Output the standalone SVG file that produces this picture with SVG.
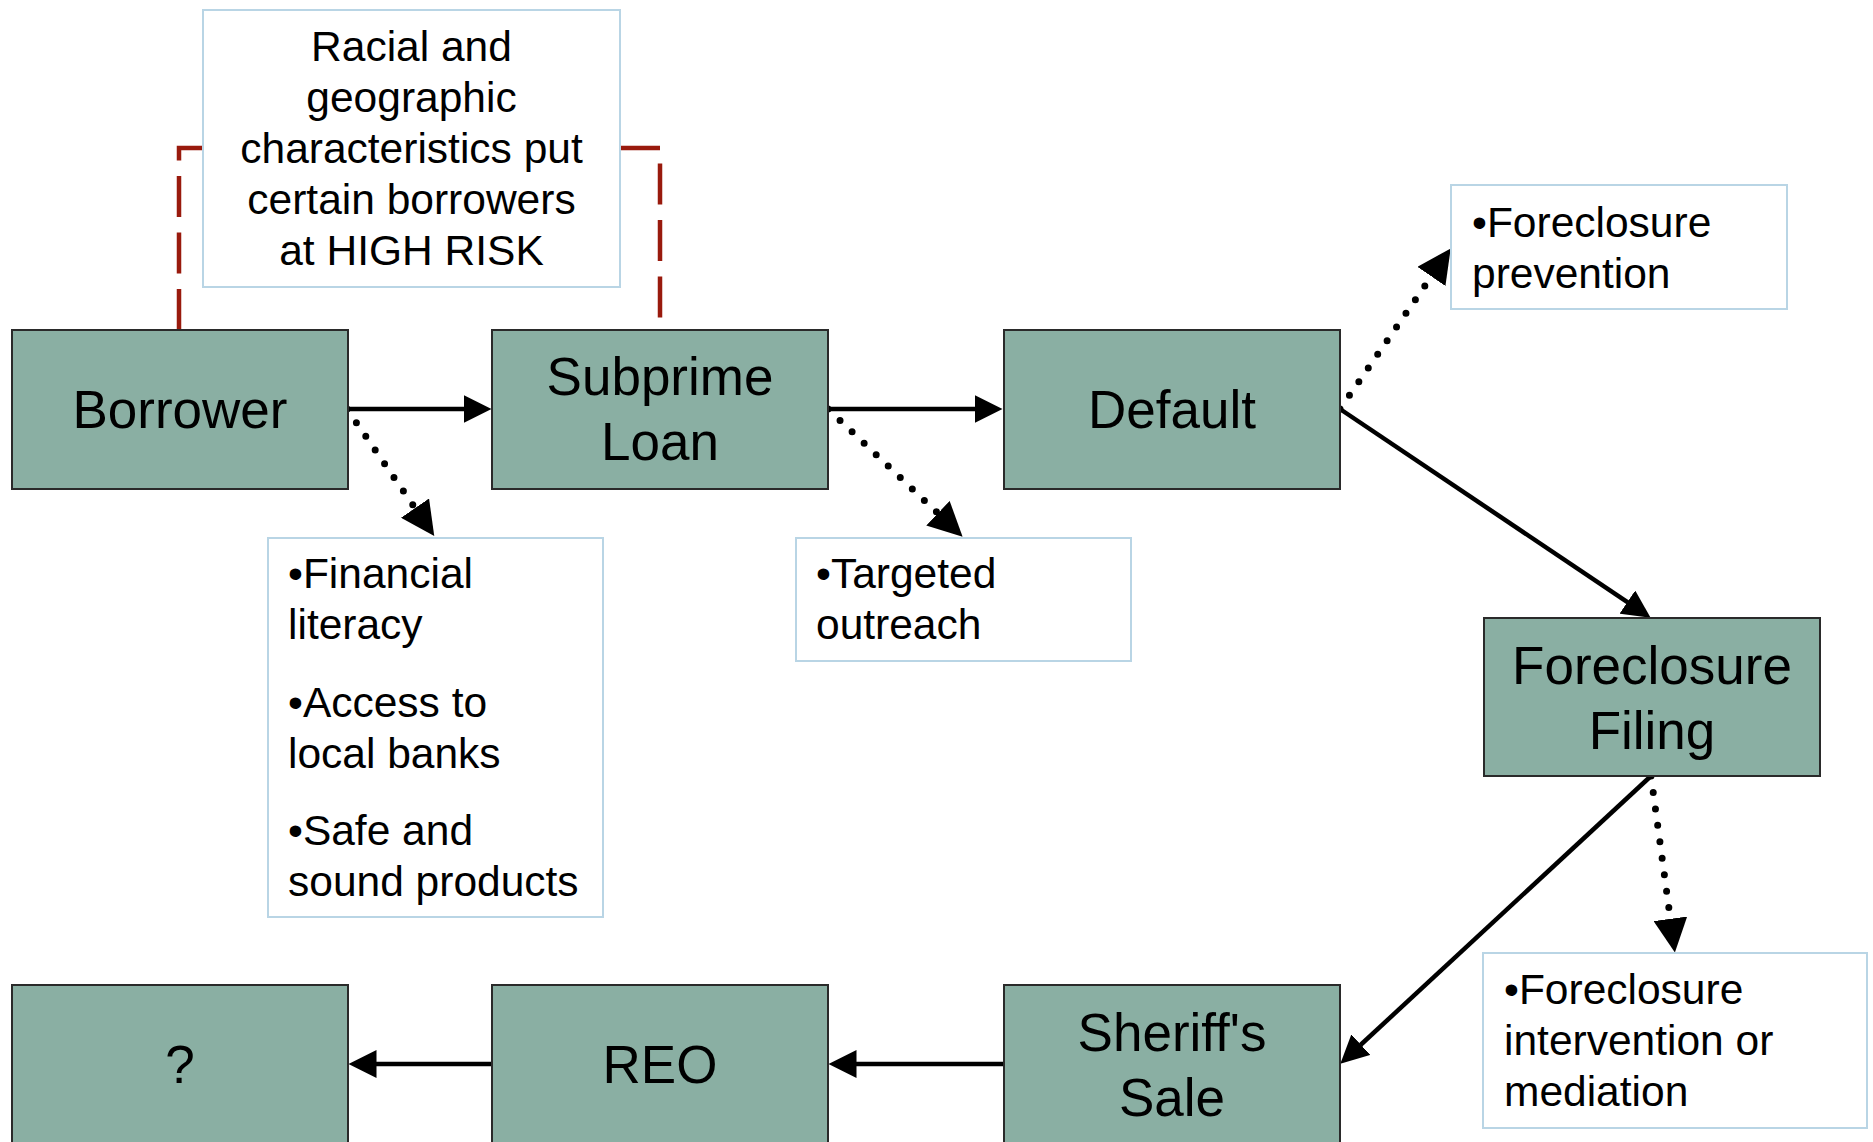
<svg xmlns="http://www.w3.org/2000/svg" width="1873" height="1142" viewBox="0 0 1873 1142">
<style>
  .node rect { fill: #8aafa3; stroke: #2a2a2a; stroke-width: 2; }
  .node text { font-family: "Liberation Sans", Arial, sans-serif; font-size: 53px; fill: #000; text-anchor: middle; }
  .note rect { fill: #ffffff; stroke: #b9d5e5; stroke-width: 2; }
  .note text { font-family: "Liberation Sans", Arial, sans-serif; font-size: 42.5px; fill: #000; }
  .note text.c { text-anchor: middle; }
  .solid { fill: none; stroke: #000; stroke-width: 4.5; marker-end: url(#arrow); }
  .dotted { fill: none; stroke: #000; stroke-width: 7; stroke-linecap: round; stroke-dasharray: 0 16.6; marker-end: url(#arrowBig); }
  .risk { fill: none; stroke: #991a0d; stroke-width: 4.5; stroke-dasharray: 41 15.5; }
</style>
<defs>
  <marker id="arrow" markerUnits="userSpaceOnUse" viewBox="0 0 28 28" markerWidth="28" markerHeight="28" refX="0.5" refY="14" orient="auto">
    <path d="M0,0 L28,14 L0,28 z" fill="#000"/>
  </marker>
  <marker id="arrowBig" markerUnits="userSpaceOnUse" viewBox="0 0 34 34" markerWidth="34" markerHeight="34" refX="0.5" refY="17" orient="auto">
    <path d="M0,0 L34,17 L0,34 z" fill="#000"/>
  </marker>
</defs>
<rect width="1873" height="1142" fill="#ffffff"/>

<g id="connectors">
  <path class="risk" d="M179,330 L179,148 L203,148"/>
  <path class="risk" d="M619,148 L660,148 L660,330"/>
  <path class="solid" d="M348,409 L464,409"/>
  <path class="solid" d="M828,409 L975,409"/>
  <path class="solid" d="M1340,409 L1627.8,602.4"/>
  <path class="solid" d="M1651,776 L1360.5,1045"/>
  <path class="solid" d="M1003,1064 L856,1064"/>
  <path class="solid" d="M492,1064 L376,1064"/>
  <path class="dotted" d="M347,409 L415.3,508.5"/>
  <path class="dotted" d="M828,409 L938.3,513.6"/>
  <path class="dotted" d="M1340,409 L1431.7,276"/>
  <path class="dotted" d="M1651,776 L1670.4,919.3"/>
</g>

<g id="note-risk" class="note">
  <rect x="203" y="10" width="417" height="277"/>
  <text class="c" x="411.5" y="61">Racial and</text>
  <text class="c" x="411.5" y="112">geographic</text>
  <text class="c" x="411.5" y="163">characteristics put</text>
  <text class="c" x="411.5" y="214">certain borrowers</text>
  <text class="c" x="411.5" y="265">at HIGH RISK</text>
</g>

<g id="borrower" class="node">
  <rect x="12" y="330" width="336" height="159"/>
  <text x="180" y="428">Borrower</text>
</g>
<g id="subprime-loan" class="node">
  <rect x="492" y="330" width="336" height="159"/>
  <text x="660" y="395">Subprime</text>
  <text x="660" y="460">Loan</text>
</g>
<g id="default" class="node">
  <rect x="1004" y="330" width="336" height="159"/>
  <text x="1172" y="428">Default</text>
</g>
<g id="foreclosure-filing" class="node">
  <rect x="1484" y="618" width="336" height="158"/>
  <text x="1652" y="684">Foreclosure</text>
  <text x="1652" y="749">Filing</text>
</g>
<g id="sheriffs-sale" class="node">
  <rect x="1004" y="985" width="336" height="159"/>
  <text x="1172" y="1051">Sheriff's</text>
  <text x="1172" y="1116">Sale</text>
</g>
<g id="reo" class="node">
  <rect x="492" y="985" width="336" height="159"/>
  <text x="660" y="1083">REO</text>
</g>
<g id="unknown" class="node">
  <rect x="12" y="985" width="336" height="159"/>
  <text x="180" y="1083">?</text>
</g>

<g id="note-borrower" class="note">
  <rect x="268" y="538" width="335" height="379"/>
  <text x="288" y="588">•Financial</text>
  <text x="288" y="639">literacy</text>
  <text x="288" y="717">•Access to</text>
  <text x="288" y="768">local banks</text>
  <text x="288" y="845">•Safe and</text>
  <text x="288" y="896">sound products</text>
</g>
<g id="note-loan" class="note">
  <rect x="796" y="538" width="335" height="123"/>
  <text x="816" y="588">•Targeted</text>
  <text x="816" y="639">outreach</text>
</g>
<g id="note-default" class="note">
  <rect x="1451" y="185" width="336" height="124"/>
  <text x="1472" y="237">•Foreclosure</text>
  <text x="1472" y="288">prevention</text>
</g>
<g id="note-filing" class="note">
  <rect x="1483" y="953" width="384" height="175"/>
  <text x="1504" y="1004">•Foreclosure</text>
  <text x="1504" y="1055">intervention or</text>
  <text x="1504" y="1106">mediation</text>
</g>
</svg>
